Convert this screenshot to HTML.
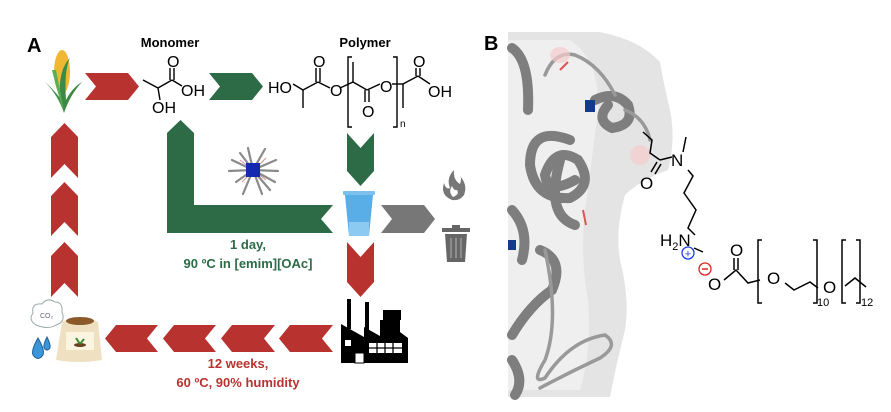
<!DOCTYPE html>
<html><head><meta charset="utf-8"><style>
html,body{margin:0;padding:0;background:#fff;width:891px;height:412px;overflow:hidden}
svg{display:block}
text{font-family:"Liberation Sans",Arial,sans-serif}
</style></head><body>
<svg width="891" height="412" viewBox="0 0 891 412" xmlns="http://www.w3.org/2000/svg">
<text x="27" y="52" font-size="20" font-weight="bold">A</text>
<text x="170" y="47" font-size="13" font-weight="bold" text-anchor="middle">Monomer</text>
<text x="365" y="47" font-size="13" font-weight="bold" text-anchor="middle">Polymer</text>

<g>
<ellipse cx="62" cy="72" rx="8" ry="22" fill="#f0b732"/>
<path d="M45,82 Q58,95 64,113 Q70,95 82,82 Q72,88 66,100 Q64,70 70,58 Q58,70 60,98 Q52,88 45,82Z" fill="#3d8a45"/>
<path d="M52,70 Q58,95 64,112 Q60,90 56,70Z" fill="#5aae55"/>
</g>

<polygon points="85,73 128,73 139,86.5 128,100 85,100 96,86.5" fill="#b83330"/>
<polygon points="209,73 252,73 263,86.5 252,100 209,100 220,86.5" fill="#2c6b46"/>

<g stroke="#000" stroke-width="1.4" fill="none">
<line x1="143" y1="80" x2="158" y2="88"/><line x1="158" y1="88" x2="172" y2="80"/>
<line x1="158" y1="88" x2="160" y2="100"/>
<line x1="170" y1="80" x2="170" y2="68"/><line x1="174" y1="80" x2="174" y2="68"/>
<line x1="172" y1="80" x2="182" y2="86"/>
</g>
<g font-size="16">
<text x="167" y="67">O</text><text x="181" y="96">OH</text><text x="152" y="113">OH</text>
</g>

<g stroke="#000" stroke-width="1.4" fill="none">
<line x1="293" y1="84" x2="303" y2="90"/><line x1="303" y1="90" x2="303" y2="108"/>
<line x1="303" y1="90" x2="318" y2="82"/>
<line x1="316" y1="82" x2="316" y2="68"/><line x1="320" y1="82" x2="320" y2="68"/>
<line x1="318" y1="82" x2="330" y2="88"/>
<line x1="340" y1="88" x2="353" y2="82"/>
<line x1="353" y1="62" x2="353" y2="82"/>
<line x1="353" y1="82" x2="367" y2="90"/>
<line x1="365" y1="90" x2="365" y2="102"/><line x1="369" y1="90" x2="369" y2="102"/>
<line x1="367" y1="90" x2="380" y2="84"/>
<line x1="392" y1="84" x2="403" y2="84"/>
<line x1="403" y1="84" x2="403" y2="108"/>
<line x1="403" y1="84" x2="418" y2="76"/>
<line x1="416" y1="76" x2="416" y2="68"/><line x1="420" y1="76" x2="420" y2="68"/>
<line x1="418" y1="76" x2="430" y2="84"/>
<path d="M352,57 H348 V127 H352"/>
<path d="M393,57 H397 V127 H393"/>
</g>
<g font-size="16">
<text x="268" y="93">HO</text><text x="313" y="67">O</text><text x="330" y="96">O</text>
<text x="362" y="117">O</text><text x="380" y="92">O</text><text x="413" y="67">O</text><text x="428" y="97">OH</text>
</g>
<text x="400" y="127" font-size="10">n</text>

<g fill="#b83330">
<polygon points="64.5,123 78,137 78,178 64.5,164 51,178 51,137"/>
<polygon points="64.5,182 78,196 78,236 64.5,222 51,236 51,196"/>
<polygon points="64.5,242 78,256 78,297 64.5,283 51,297 51,256"/>
</g>

<polygon points="180.5,120 194,133 194,205 333,205 321,219 333,233 167,233 167,133" fill="#2c6b46"/>

<g stroke="#8a8a8a" stroke-width="2.2" stroke-linecap="round">
<line x1="253" y1="170" x2="232" y2="160"/><line x1="253" y1="170" x2="236" y2="182"/>
<line x1="253" y1="170" x2="248" y2="148"/><line x1="253" y1="170" x2="265" y2="149"/>
<line x1="253" y1="170" x2="276" y2="160"/><line x1="253" y1="170" x2="275" y2="182"/>
<line x1="253" y1="170" x2="262" y2="194"/><line x1="253" y1="170" x2="243" y2="194"/>
<line x1="253" y1="170" x2="229" y2="171"/><line x1="253" y1="170" x2="278" y2="171"/>
<line x1="253" y1="170" x2="240" y2="153"/><line x1="253" y1="170" x2="270" y2="190"/>
</g>
<g stroke="#b84a4a" stroke-width="1" opacity="0.6">
<line x1="240" y1="160" x2="266" y2="180"/><line x1="242" y1="182" x2="266" y2="158"/>
</g>
<rect x="246" y="163" width="14" height="14" fill="#1428b0"/>

<polygon points="347,133 360.5,148 374,133 374,171 360.5,186 347,171" fill="#2c6b46"/>

<rect x="343" y="191" width="32" height="4" rx="1" fill="#7cc0ee"/>
<polygon points="345,195 373,195 369,236 349,236" fill="#5aaee8"/>
<polygon points="349,222 369,222 369,236 349,236" fill="#8ccaf2"/>

<polygon points="381,205 424,205 435,219 424,233 381,233 392,219" fill="#777"/>

<path d="M452,200 Q440,195 444,183 Q446,190 450,188 Q446,178 454,170 Q453,180 460,184 Q462,178 460,176 Q468,185 464,195 Q460,201 452,200Z" fill="#777"/>
<path d="M453,197 Q448,192 452,186 Q454,191 457,190 Q460,194 453,197Z" fill="#fff"/>
<rect x="442" y="228" width="28" height="4" fill="#666"/>
<rect x="452" y="225" width="8" height="4" fill="#666"/>
<path d="M445,234 H467 L465,262 H447Z" fill="#666"/>
<g stroke="#999" stroke-width="1.5"><line x1="451" y1="238" x2="451" y2="258"/><line x1="456" y1="238" x2="456" y2="258"/><line x1="461" y1="238" x2="461" y2="258"/></g>

<g fill="#2c6b46" font-size="13" font-weight="bold" text-anchor="middle">
<text x="248" y="249">1 day,</text>
<text x="248" y="268">90 ºC in [emim][OAc]</text>
</g>

<polygon points="347,242 360.5,257 374,242 374,282 360.5,297 347,282" fill="#b83330"/>

<g fill="#000">
<rect x="347" y="299" width="4" height="30"/><rect x="365" y="302" width="4" height="28"/>
<path d="M341,324 L364,337 V327 L380,336 V320 H400 V332 L408,338 V363 H341Z"/>
<rect x="383" y="310" width="18" height="10"/>
</g>
<rect x="345" y="340" width="6" height="6" fill="#fff"/>
<g fill="#fff"><rect x="369" y="343" width="33" height="10"/></g>
<g stroke="#000" stroke-width="1.3"><line x1="369" y1="348" x2="402" y2="348"/><line x1="377" y1="343" x2="377" y2="353"/><line x1="385" y1="343" x2="385" y2="353"/><line x1="393" y1="343" x2="393" y2="353"/></g>
<rect x="355" y="353" width="9" height="10" fill="#fff" stroke="#000"/>

<g fill="#b83330">
<polygon points="105,338.5 116,325 158,325 147,338.5 158,352 116,352"/>
<polygon points="163,338.5 174,325 216,325 205,338.5 216,352 174,352"/>
<polygon points="221,338.5 232,325 275,325 264,338.5 275,352 232,352"/>
<polygon points="279,338.5 290,325 333,325 322,338.5 333,352 290,352"/>
</g>
<g fill="#b83330" font-size="13" font-weight="bold" text-anchor="middle">
<text x="238" y="368">12 weeks,</text>
<text x="238" y="387">60 ºC, 90% humidity</text>
</g>

<path d="M36,325 Q28,320 33,313 Q31,303 42,304 Q47,297 55,302 Q63,302 62,312 Q66,322 56,325 Q48,330 36,325Z" fill="#fff" stroke="#9aa" stroke-width="1"/>
<text x="40" y="318" font-size="7" fill="#667">CO₂</text>
<path d="M38,338 Q31,350 33,355 Q38,362 43,355 Q45,350 38,338Z" fill="#3b95d6" stroke="#1c5f9a"/>
<path d="M47,337 Q43,345 44,348 Q47,352 50,348 Q51,345 47,337Z" fill="#3b95d6" stroke="#1c5f9a"/>
<path d="M62,322 Q80,312 98,322 L102,360 Q80,364 56,360Z" fill="#f0e0c2"/>
<ellipse cx="80" cy="321" rx="14" ry="4" fill="#8a5a2a"/>
<rect x="66" y="332" width="28" height="18" fill="#fbf4e0"/>
<ellipse cx="80" cy="345" rx="6" ry="2" fill="#6a4020"/>
<path d="M80,344 L76,338 M80,344 L84,339" stroke="#3a8a30" stroke-width="2"/>

<!-- Panel B -->
<text x="484" y="50" font-size="20" font-weight="bold">B</text>
<path d="M508,32 L600,32 Q640,40 660,62 Q665,90 670,110 Q676,140 668,170 Q640,180 625,195 Q615,230 620,260 Q630,300 625,330 Q615,370 610,397 L508,397Z" fill="#e4e4e4"/>
<path d="M508,40 L570,40 Q600,60 598,110 Q592,160 585,210 Q580,260 588,300 Q592,350 580,390 L508,390Z" fill="#efefef"/>
<g fill="none" stroke-linecap="round">
<!-- helices -->
<g stroke="#7e7e7e" stroke-width="10">
<path d="M512,48 Q530,60 528,110"/>
<path d="M595,100 Q615,90 628,105 Q635,125 612,128 Q595,120 608,105"/>
<path d="M570,140 Q530,125 530,165 Q535,200 570,198 Q595,185 578,160 Q555,145 545,175 Q548,195 575,180"/>
<path d="M560,160 Q545,215 575,225"/>
<path d="M512,210 Q530,230 522,260"/>
<path d="M540,250 Q565,260 552,290 Q530,305 512,335"/>
<path d="M512,360 Q525,380 515,395"/>
</g>
<g stroke="#999" stroke-width="3.5">
<path d="M545,75 Q555,50 575,55 Q600,65 615,95"/>
<path d="M545,250 Q560,320 545,360 Q530,385 545,378 Q570,340 605,335 Q620,345 600,358 Q570,372 540,388"/>
<path d="M625,110 Q645,118 650,140"/>
</g>
</g>
<rect x="585" y="100" width="10" height="12" fill="#123c8a"/>
<rect x="508" y="240" width="8" height="10" fill="#123c8a"/>
<g stroke="#d55" stroke-width="2"><line x1="560" y1="70" x2="568" y2="62"/><line x1="583" y1="210" x2="586" y2="225"/></g>
<ellipse cx="560" cy="55" rx="10" ry="8" fill="#f6cccc" opacity="0.7"/>
<ellipse cx="640" cy="155" rx="10" ry="10" fill="#f6cccc" opacity="0.7"/>

<g stroke="#000" stroke-width="1.5" fill="none">
<polyline points="643,132 652,140 650,153 660,160"/>
<line x1="660" y1="160" x2="672" y2="157"/>
<line x1="657" y1="162" x2="651" y2="172"/><line x1="661" y1="164" x2="655" y2="174"/>
<line x1="683" y1="152" x2="686" y2="137"/>
<polyline points="688,170 693,176 684,193 696,210 688,228 695,235"/>
<line x1="694" y1="248" x2="703" y2="252"/>
<polyline points="724,280 736,270 748,283 760,280"/>
<line x1="734" y1="270" x2="734" y2="258"/><line x1="738" y1="270" x2="738" y2="258"/>
<polyline points="785,283 794,290 810,282 818,288"/>
<polyline points="845,286 855,278 866,287"/>
<path d="M762,240 H758 V303 H762"/>
<path d="M813,240 H817 V303 H813"/>
<path d="M846,240 H842 V303 H846"/>
<path d="M856,240 H860 V303 H856"/>
</g>
<g font-size="17">
<text x="671" y="166">N</text>
<text x="640" y="189">O</text>
<text x="660" y="246">H<tspan font-size="11" dy="4">2</tspan><tspan dy="-4">N</tspan></text>
<text x="708" y="290">O</text>
<text x="730" y="256">O</text>
<text x="767" y="284">O</text>
<text x="823" y="293">O</text>
</g>
<text x="817" y="306" font-size="11">10</text>
<text x="861" y="306" font-size="11">12</text>
<circle cx="688" cy="253" r="6" fill="none" stroke="#1a3cf0" stroke-width="1.3"/>
<text x="688" y="257.5" font-size="11" fill="#1a3cf0" text-anchor="middle">+</text>
<circle cx="705" cy="269" r="6" fill="none" stroke="#e02020" stroke-width="1.3"/>
<line x1="702" y1="269" x2="708" y2="269" stroke="#e02020" stroke-width="1.5"/>
</svg>
</body></html>
